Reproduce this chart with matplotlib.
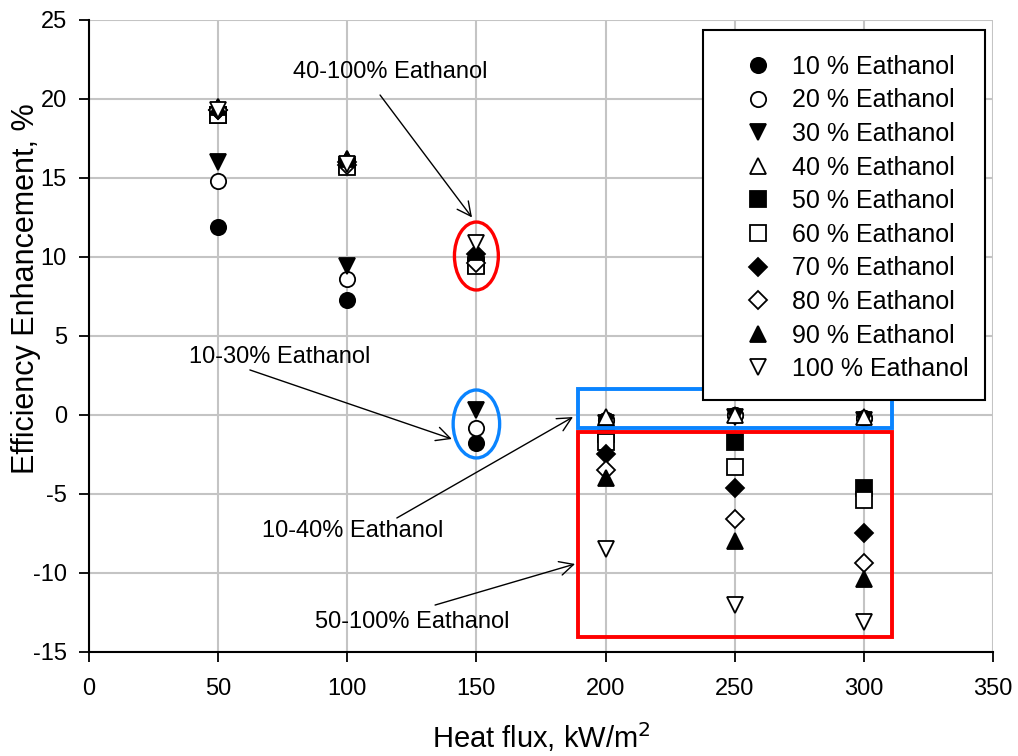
import matplotlib.pyplot as plt
from matplotlib.patches import Ellipse, Rectangle

plt.rcParams['font.family'] = ['Liberation Sans', 'DejaVu Sans']
plt.rcParams['axes.unicode_minus'] = False

heat_flux = [50, 100, 150, 200, 250, 300]

e10 = [11.9, 7.3, -1.8, -0.3, 0.0, -0.2]
e20 = [14.8, 8.6, -0.8, -0.3, 0.0, -0.2]
e30 = [16.0, 9.4, 0.3, -0.5, -0.1, -0.3]
e40 = [19.5, 16.2, 10.0, -0.1, 0.0, -0.1]
e50 = [19.0, 15.8, 9.5, -1.2, -1.7, -4.6]
e60 = [19.0, 15.7, 9.4, -1.7, -3.3, -5.4]
e70 = [19.3, 16.0, 10.2, -2.5, -4.6, -7.5]
e80 = [19.3, 15.8, 9.6, -3.5, -6.6, -9.4]
e90 = [19.5, 16.2, 10.3, -4.0, -8.0, -10.4]
e100 = [19.3, 15.9, 10.9, -8.5, -12.0, -13.1]

series = [
    ('10 % Eathanol', e10, 'o', 'black'),
    ('20 % Eathanol', e20, 'o', 'white'),
    ('30 % Eathanol', e30, 'v', 'black'),
    ('40 % Eathanol', e40, '^', 'white'),
    ('50 % Eathanol', e50, 's', 'black'),
    ('60 % Eathanol', e60, 's', 'white'),
    ('70 % Eathanol', e70, 'D', 'black'),
    ('80 % Eathanol', e80, 'D', 'white'),
    ('90 % Eathanol', e90, '^', 'black'),
    ('100 % Eathanol', e100, 'v', 'white'),
]

fig = plt.figure(figsize=(10.18, 7.56), dpi=100)
ax = fig.add_axes([0.0874, 0.1376, 0.888, 0.836])

for label, vals, mk, fc in series:
    ms = 9.5 if mk == 'D' else 11
    ax.plot(heat_flux, vals, linestyle='none', marker=mk, markersize=ms,
            markerfacecolor=fc, markeredgecolor='black', markeredgewidth=1.3,
            label=label, zorder=3)

ax.set_xlim(0, 350)
ax.set_ylim(-15, 25)
ax.set_xticks(range(0, 351, 50))
ax.set_yticks(range(-15, 26, 5))
ax.grid(True, color='#c4c4c4', linewidth=1.5)
ax.set_axisbelow(True)
for s in ['top', 'right']:
    ax.spines[s].set_visible(False)
for s in ['left', 'bottom']:
    ax.spines[s].set_linewidth(1.5)
ax.tick_params(direction='out', length=7, width=1.3, labelsize=17)
ax.tick_params(axis='x', pad=12)
ax.tick_params(axis='y', pad=9)

ax.set_xlabel('Heat flux, kW/m$^2$', fontsize=21, labelpad=14)
ax.set_ylabel('Efficiency Enhancement, %', fontsize=22)
ax.yaxis.set_label_coords(-0.053, 0.575)

# highlight shapes
ax.add_patch(Ellipse((150, 10.06), 17, 4.3, fill=False, edgecolor='#ff0000', linewidth=2.4, zorder=4))
ax.add_patch(Ellipse((150, -0.57), 18, 4.3, fill=False, edgecolor='#0a84ff', linewidth=2.4, zorder=4))
ax.add_patch(Rectangle((189.3, -0.82), 121.6, 2.47, fill=False, edgecolor='#0a84ff', linewidth=2.8, zorder=4))
ax.add_patch(Rectangle((189.3, -14.05), 121.6, 12.97, fill=False, edgecolor='#ff0000', linewidth=2.8, zorder=4))

arrow = dict(arrowstyle='->', color='black', linewidth=1.0, mutation_scale=25, shrinkA=0, shrinkB=0)
notes = [
    ('40-100% Eathanol', (148.3, 12.5), (116.5, 21.7), (112.7, 20.25)),
    ('10-30% Eathanol', (140.5, -1.52), (74.0, 3.67), (62.3, 2.85)),
    ('10-40% Eathanol', (187.4, -0.13), (102.2, -7.34), (119.2, -6.52)),
    ('50-100% Eathanol', (188.2, -9.43), (125.0, -13.1), (134.0, -12.03)),
]
for txt, tip, pos, start in notes:
    ax.annotate('', xy=tip, xytext=start, arrowprops=arrow, zorder=5)
    ax.text(pos[0], pos[1], txt, fontsize=17, ha='center', va='center', zorder=5)

# legend box drawn separately so its padding can be uneven like the original
ax.add_patch(Rectangle((0.679, 0.399), 0.312, 0.585, transform=ax.transAxes,
                       facecolor='white', edgecolor='black', linewidth=1.5, zorder=5))
leg = ax.legend(loc='upper left', bbox_to_anchor=(0.7235, 0.945), borderaxespad=0,
                fontsize=18, frameon=False, borderpad=0, handlelength=1.2,
                handletextpad=0.76, labelspacing=0.384, numpoints=1)
leg.set_zorder(6)

fig.savefig('out.png', dpi=100)
